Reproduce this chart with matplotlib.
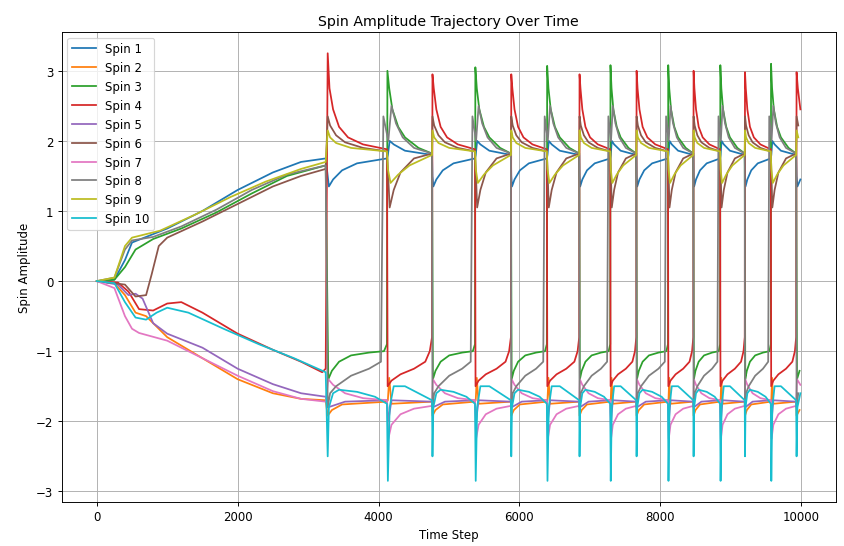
import matplotlib
matplotlib.use("Agg")
import matplotlib.pyplot as plt

R_EVENTS = [3270, 4760, 5880, 6850, 7660, 8470, 9200, 9930]
G_EVENTS = [4120, 5370, 6390, 7290, 8110, 8850, 9570]
RED_PEAKS = [3.25, 2.95, 2.95, 2.95, 3.0, 3.0, 2.98, 2.98]
GREEN_PEAKS = [3.0, 3.05, 3.07, 3.08, 3.08, 3.08, 3.1]

INIT = {
    1: [(0,0),(250,0.02),(400,0.3),(500,0.55),(700,0.63),(1000,0.75),(1500,1.0),(2000,1.3),(2500,1.55),(2900,1.7),(3250,1.75)],
    2: [(0,0),(250,-0.03),(400,-0.2),(550,-0.45),(700,-0.5),(1000,-0.8),(1500,-1.1),(2000,-1.4),(2500,-1.6),(2900,-1.68),(3250,-1.7)],
    3: [(0,0),(250,0.02),(400,0.2),(550,0.45),(800,0.6),(1200,0.75),(1700,0.98),(2200,1.25),(2700,1.5),(3250,1.65)],
    4: [(0,0),(300,-0.02),(450,-0.15),(600,-0.4),(800,-0.42),(1000,-0.32),(1200,-0.3),(1500,-0.45),(2000,-0.75),(2500,-0.98),(2900,-1.15),(3200,-1.3),(3250,-1.25)],
    5: [(0,0),(300,-0.05),(450,-0.2),(550,-0.18),(650,-0.25),(800,-0.6),(1000,-0.75),(1500,-0.95),(2000,-1.25),(2500,-1.47),(2900,-1.6),(3250,-1.65)],
    6: [(0,0),(400,-0.05),(550,-0.22),(700,-0.2),(780,0.1),(880,0.5),(1000,0.62),(1500,0.85),(2000,1.1),(2500,1.35),(2900,1.5),(3250,1.6)],
    7: [(0,0),(250,-0.1),(400,-0.5),(500,-0.68),(600,-0.74),(1000,-0.85),(1500,-1.1),(2000,-1.35),(2500,-1.57),(2900,-1.68),(3250,-1.72)],
    8: [(0,0),(250,0.05),(400,0.45),(500,0.58),(800,0.63),(1200,0.78),(1700,1.02),(2200,1.3),(2700,1.52),(3250,1.65)],
    9: [(0,0),(250,0.05),(400,0.5),(500,0.62),(900,0.72),(1400,0.95),(1900,1.2),(2400,1.42),(2900,1.6),(3250,1.7)],
    10: [(0,0),(250,-0.03),(400,-0.3),(550,-0.52),(700,-0.55),(850,-0.45),(1000,-0.38),(1300,-0.45),(1800,-0.68),(2300,-0.9),(2800,-1.1),(3250,-1.3)],
}

AFTER_R = {
    1: [(0.01,1.5),(0.03,1.35),(0.1,1.45),(0.25,1.58),(0.5,1.68),(1.0,1.75)],
    2: [(0.01,-1.92),(0.08,-1.84),(0.25,-1.76),(1.0,-1.72)],
    3: [(0.02,-1.4),(0.08,-1.28),(0.2,-1.15),(0.4,-1.06),(0.7,-1.02),(0.95,-1.0),(1.0,-0.9)],
    4: [(0.01,'P'),(0.04,2.75),(0.1,2.45),(0.2,2.2),(0.35,2.05),(0.6,1.95),(1.0,1.88)],
    5: [(0.02,-1.8),(0.3,-1.72),(1.0,-1.7)],
    6: [(0.01,2.35),(0.05,2.22),(0.15,2.08),(0.3,1.98),(0.6,1.9),(1.0,1.85)],
    7: [(0.02,-1.4),(0.1,-1.48),(0.3,-1.6),(0.6,-1.67),(1.0,-1.7)],
    8: [(0.01,-1.8),(0.05,-1.6),(0.15,-1.5),(0.4,-1.35),(0.7,-1.25),(0.9,-1.15),(0.94,2.35)],
    9: [(0.01,2.15),(0.05,2.05),(0.15,1.97),(0.4,1.9),(1.0,1.85)],
    10: [(0.01,-2.5),(0.03,-1.8),(0.1,-1.6),(0.2,-1.55),(0.5,-1.58),(0.8,-1.65),(1.0,-1.75)],
}
AFTER_G = {
    1: [(0.02,1.8),(0.06,2.0),(0.15,1.95),(0.4,1.86),(1.0,1.8)],
    2: [(0.02,-1.7),(0.05,-1.38),(0.1,-1.75),(1.0,-1.72)],
    3: [(0.01,'P'),(0.05,2.75),(0.12,2.45),(0.25,2.2),(0.4,2.05),(0.7,1.9),(1.0,1.82)],
    4: [(0.015,-1.5),(0.1,-1.42),(0.3,-1.33),(0.6,-1.25),(0.85,-1.15),(0.95,-1.0),(1.0,-0.8)],
    5: [(0.03,-2.0),(0.1,-1.7),(1.0,-1.72)],
    6: [(0.02,1.6),(0.06,1.05),(0.15,1.3),(0.3,1.55),(0.6,1.75),(1.0,1.82)],
    7: [(0.03,-2.25),(0.1,-2.05),(0.3,-1.9),(0.6,-1.82),(1.0,-1.78)],
    8: [(0.03,2.0),(0.1,2.5),(0.2,2.25),(0.35,2.05),(0.6,1.9),(1.0,1.82)],
    9: [(0.02,1.6),(0.08,1.4),(0.25,1.52),(0.5,1.65),(1.0,1.8)],
    10: [(0.02,-2.85),(0.06,-1.8),(0.15,-1.5),(0.4,-1.5),(0.7,-1.6),(1.0,-1.7)],
}

T_END = 10000
events = sorted([(t, 'R', p) for t, p in zip(R_EVENTS, RED_PEAKS)] +
                [(t, 'G', p) for t, p in zip(G_EVENTS, GREEN_PEAKS)])

fig, ax = plt.subplots(figsize=(10, 6.48), dpi=84.4)
for s in range(1, 11):
    ts = [p[0] for p in INIT[s]]
    vs = [p[1] for p in INIT[s]]
    for i, (t0, kind, peak) in enumerate(events):
        nxt = events[i+1][0] if i+1 < len(events) else t0 + 600
        span = nxt - t0
        shape = AFTER_R[s] if kind == 'R' else AFTER_G[s]
        for f, v in shape:
            t = t0 + f * span
            if t > T_END:
                break
            ts.append(t)
            vs.append(peak if v == 'P' else v)
    ax.plot(ts, vs, label=f"Spin {s}")

ax.set_title("Spin Amplitude Trajectory Over Time")
ax.set_xlabel("Time Step")
ax.set_ylabel("Spin Amplitude")
ax.grid(True)
ax.legend(loc="upper left")
fig.subplots_adjust(left=0.073, right=0.99, top=0.94, bottom=0.08)
fig.savefig("out.png")
